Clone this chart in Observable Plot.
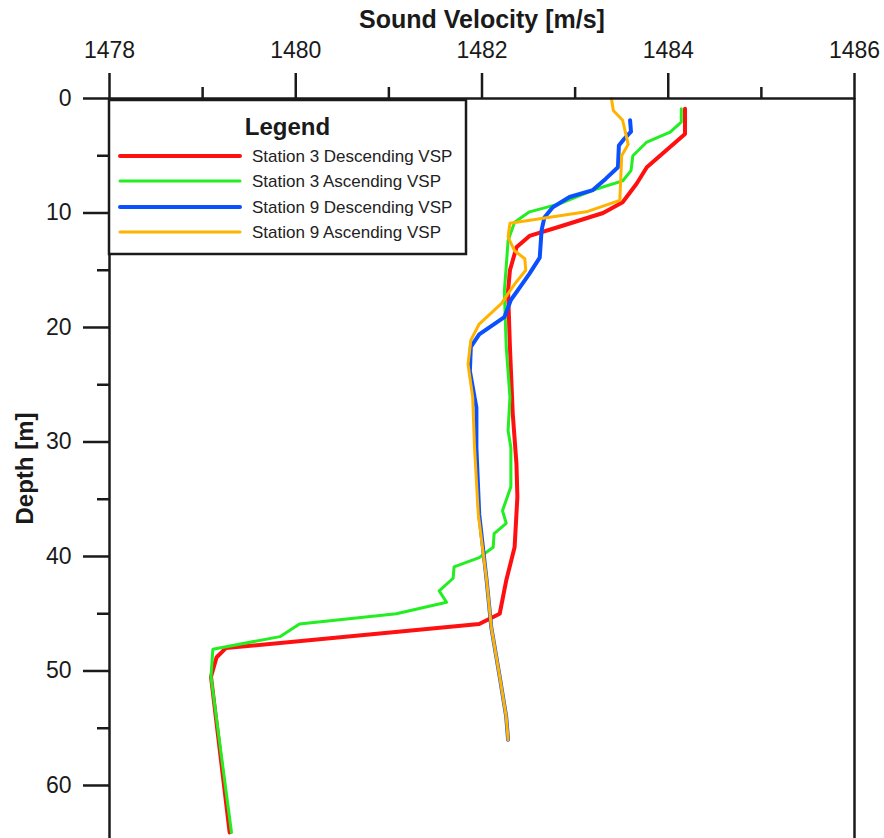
<!DOCTYPE html>
<html>
<head>
<meta charset="utf-8">
<script src="https://cdn.jsdelivr.net/npm/d3@7"></script>
<script src="https://cdn.jsdelivr.net/npm/@observablehq/plot@0.6"></script>
<style>
  body { margin: 0; background: #fff; font-family: "Liberation Sans", Arial, sans-serif; }
  #wrap { position: relative; width: 884px; height: 838px; overflow: hidden; }
  #legend { position: absolute; left: 0; top: 0; pointer-events: none; }
</style>
</head>
<body>
<div id="wrap"></div>
<script>
// ---- Data ----
const seriesNames = ["Station 3 Descending VSP", "Station 3 Ascending VSP", "Station 9 Descending VSP", "Station 9 Ascending VSP"];
const seriesColors = ["#ff1010", "#22ee22", "#0a50ff", "#ffb300"];

const s3DescDepth = [0.9, 3.1, 6.0, 7.45, 9.06, 10.0, 11.2, 12.0, 13.0, 15.0, 16.8, 21.7, 27.5, 31.9, 34.8, 39.2, 42.1, 45.0, 45.9, 48.0, 48.8, 50.5, 64.1];
const s3DescVel   = [1484.18, 1484.18, 1483.77, 1483.66, 1483.51, 1483.30, 1482.83, 1482.51, 1482.37, 1482.30, 1482.28, 1482.30, 1482.33, 1482.37, 1482.38, 1482.35, 1482.26, 1482.19, 1481.97, 1479.25, 1479.15, 1479.09, 1479.29];

const s3AscDepth = [0.9, 2.07, 2.94, 3.8, 5.0, 6.3, 7.2, 7.9, 9.2, 9.9, 10.8, 12.4, 14.7, 16.8, 21.7, 26.1, 29.0, 30.5, 33.9, 36.0, 37.1, 38.0, 39.2, 40.1, 40.9, 41.9, 43.0, 44.0, 45.0, 45.9, 47.0, 48.1, 50.5, 64.1];
const s3AscVel   = [1484.14, 1484.14, 1484.02, 1483.77, 1483.62, 1483.60, 1483.51, 1483.23, 1482.83, 1482.51, 1482.35, 1482.28, 1482.26, 1482.24, 1482.26, 1482.30, 1482.28, 1482.31, 1482.31, 1482.22, 1482.26, 1482.13, 1482.12, 1481.97, 1481.70, 1481.69, 1481.54, 1481.62, 1481.08, 1480.04, 1479.83, 1479.11, 1479.09, 1479.31];

const s9DescDepth = [1.9, 2.9, 3.5, 4.1, 6.0, 7.0, 8.0, 8.6, 9.5, 10.4, 11.5, 13.9, 15.3, 16.0, 17.6, 19.1, 20.6, 21.7, 23.8, 27.0, 30.5, 36.3, 42.1, 46.2, 50.5, 54.0, 56.0];
const s9DescVel   = [1483.59, 1483.60, 1483.53, 1483.47, 1483.46, 1483.33, 1483.19, 1482.94, 1482.76, 1482.67, 1482.64, 1482.62, 1482.51, 1482.45, 1482.31, 1482.24, 1481.97, 1481.88, 1481.87, 1481.94, 1481.94, 1481.97, 1482.05, 1482.10, 1482.19, 1482.26, 1482.28];

const s9AscDepth = [0, 1.05, 1.9, 4.0, 5.0, 8.9, 9.9, 10.9, 12.1, 13.3, 14.0, 15.0, 16.0, 16.8, 17.9, 19.7, 21.1, 23.2, 26.1, 30.5, 36.3, 42.1, 46.2, 50.5, 54.0, 56.0];
const s9AscVel   = [1483.39, 1483.41, 1483.51, 1483.57, 1483.50, 1483.48, 1483.12, 1482.30, 1482.28, 1482.35, 1482.46, 1482.47, 1482.37, 1482.30, 1482.21, 1481.97, 1481.88, 1481.85, 1481.90, 1481.92, 1481.96, 1482.05, 1482.10, 1482.19, 1482.26, 1482.28];

const majorXTicks = [1478, 1480, 1482, 1484, 1486];
const minorXTicks = [1479, 1481, 1483, 1485];
const majorYTicks = [0, 10, 20, 30, 40, 50, 60];
const minorYTicks = [5, 15, 25, 35, 45, 55];

const xTitle = "Sound Velocity [m/s]";
const yTitle = "Depth [m]";
const legendTitle = "Legend";

// ---- Build ----
const depthArrays = [s3DescDepth, s3AscDepth, s9DescDepth, s9AscDepth];
const velArrays = [s3DescVel, s3AscVel, s9DescVel, s9AscVel];
const widths = [4, 3, 4, 3];
const rowsFor = k => velArrays[k].map((v, i) => ({v, d: depthArrays[k][i]}));

const axisColor = "#1a1a1a";
const chart = Plot.plot({
  width: 884,
  height: 838,
  marginTop: 98,
  marginBottom: 0,
  marginLeft: 109,
  marginRight: 30,
  x: {domain: [1478, 1486]},
  y: {domain: [0, 64.63], reverse: true},
  style: {fontFamily: "'Liberation Sans', Arial, sans-serif", color: axisColor, background: "#fff", overflow: "visible"},
  marks: [
    ...[0, 1, 2, 3].map(k => Plot.line(rowsFor(k), {
      x: "v", y: "d", stroke: seriesColors[k], strokeWidth: widths[k],
      strokeLinecap: "round", strokeLinejoin: "round"
    })),
    Plot.ruleX([1478, 1486], {stroke: axisColor, strokeWidth: 2.5}),
    Plot.ruleY([0], {stroke: axisColor, strokeWidth: 2.5}),
    Plot.axisX({anchor: "top", ticks: majorXTicks, tickSize: 26, tickPadding: 15, fontSize: 23, label: null, strokeWidth: 2.5, tickFormat: d => String(d)}),
    Plot.axisX({anchor: "top", ticks: minorXTicks, tickSize: 12, label: null, strokeWidth: 2.5, tickFormat: () => ""}),
    Plot.axisY({anchor: "left", ticks: majorYTicks, tickSize: 26, tickPadding: 12, fontSize: 23, label: null, strokeWidth: 2.5}),
    Plot.axisY({anchor: "left", ticks: minorYTicks, tickSize: 12, label: null, strokeWidth: 2.5, tickFormat: () => ""}),
    Plot.text([xTitle], {frameAnchor: "top", dy: -79, fontSize: 25, fontWeight: "bold", lineAnchor: "middle", textAnchor: "middle", fill: axisColor}),
    Plot.text([yTitle], {frameAnchor: "left", dx: -84, rotate: -90, fontSize: 24, fontWeight: "bold", lineAnchor: "middle", textAnchor: "middle", fill: axisColor})
  ]
});

const wrap = document.getElementById("wrap");
wrap.appendChild(chart);

// ---- Legend (overlay) ----
const lg = d3.select(wrap).append("svg")
  .attr("id", "legend").attr("width", 884).attr("height", 838);
const box = {x: 109, y: 100, w: 357, h: 154};
lg.append("rect").attr("x", box.x).attr("y", box.y).attr("width", box.w).attr("height", box.h)
  .attr("fill", "#fff").attr("stroke", axisColor).attr("stroke-width", 2.5);
lg.append("text").attr("x", box.x + box.w / 2).attr("y", 127).attr("dy", "0.35em")
  .attr("text-anchor", "middle").attr("font-size", 24).attr("font-weight", "bold")
  .attr("font-family", "'Liberation Sans', Arial, sans-serif").attr("fill", axisColor).text(legendTitle);
const rowY = [156, 181, 207, 232];
seriesNames.forEach((name, k) => {
  lg.append("line").attr("x1", 120).attr("x2", 240).attr("y1", rowY[k]).attr("y2", rowY[k])
    .attr("stroke", seriesColors[k]).attr("stroke-width", widths[k]).attr("stroke-linecap", "round");
  lg.append("text").attr("x", 252).attr("y", rowY[k]).attr("dy", "0.35em")
    .attr("font-size", 17).attr("font-family", "'Liberation Sans', Arial, sans-serif")
    .attr("fill", "#222").text(name);
});
</script>
</body>
</html>
